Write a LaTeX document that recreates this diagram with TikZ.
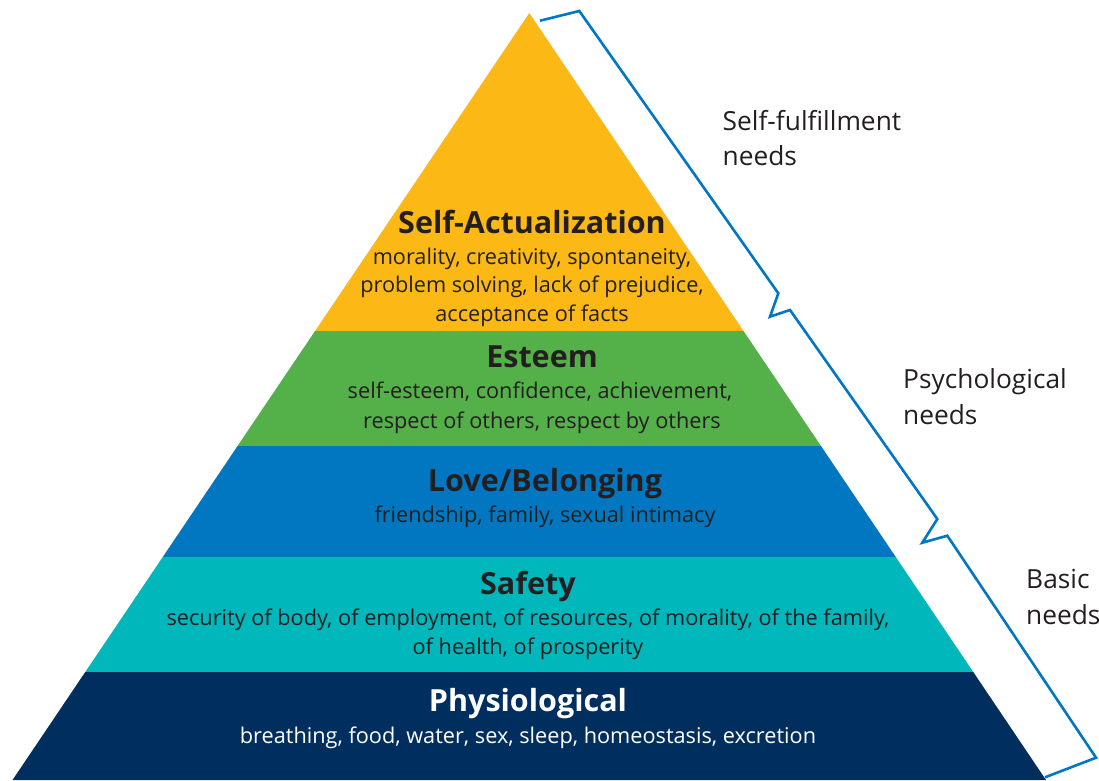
\documentclass[tikz,border=0pt]{standalone}
\usepackage{fontspec}
\setmainfont{Open Sans}
\definecolor{cyel}{RGB}{252,184,21}
\definecolor{cgrn}{RGB}{84,176,72}
\definecolor{cblu}{RGB}{0,119,192}
\definecolor{ctea}{RGB}{0,183,187}
\definecolor{cnav}{RGB}{0,46,95}
\definecolor{cbrk}{RGB}{0,118,196}
\definecolor{ctxt}{RGB}{35,31,32}
\tikzset{
  head/.style={anchor=base, inner sep=0pt, font=\fontsize{30.5}{34}\selectfont\bfseries, text=ctxt},
  body/.style={anchor=base, inner sep=0pt, font=\fontsize{21.7}{28}\selectfont, text=ctxt},
  side/.style={anchor=base west, inner sep=0pt, font=\fontsize{26.3}{30}\selectfont, text=ctxt},
  brk/.style={draw=cbrk, line width=2.6pt, line join=miter},
}
\begin{document}
\begin{tikzpicture}[x=1pt,y=-1pt]
\useasboundingbox (0,0) rectangle (1099,780);
\coordinate (apex) at (529.3,13);
\coordinate (bl) at (12.5,780);
\coordinate (br) at (1046,780);
\begin{scope}
  \clip (apex) -- (bl) -- (br) -- cycle;
  \fill[cyel] (0,0) rectangle (1099,331);
  \fill[cgrn] (0,331) rectangle (1099,446);
  \fill[cblu] (0,446) rectangle (1099,556.5);
  \fill[ctea] (0,556.5) rectangle (1099,671.5);
  \fill[cnav] (0,671.5) rectangle (1099,781);
\end{scope}
% bracket
\coordinate (b0) at (540,20.7);
\coordinate (b1) at (579.3,11);
\coordinate (b2) at (778.3,293.3);
\coordinate (b3) at (770,316.7);
\coordinate (b4) at (790,310);
\coordinate (b5) at (937.3,519);
\coordinate (b6) at (922.3,542.7);
\coordinate (b7) at (947.3,535.7);
\coordinate (b8) at (1096,757.7);
\coordinate (b9) at (1045,777.3);
\draw[brk] (b0) -- (b1) -- (b2) -- (b3) -- (b4) -- (b5) -- (b6) -- (b7) -- (b8) -- (b9);
% texts
\node[head] (sah) at (532,233) {Self-Actualization};
\node[body] (sa1) at (532,264) {morality, creativity, spontaneity,};
\node[body] (sa2) at (532,292.5) {problem solving, lack of prejudice,};
\node[body] (sa3) at (532,321) {acceptance of facts};
\node[head] (esh) at (542,367) {Esteem};
\node[body] (es1) at (540,398) {self-esteem, confidence, achievement,};
\node[body] (es2) at (542,428) {respect of others, respect by others};
\node[head] (loh) at (545,491) {Love/Belonging};
\node[body] (lo1) at (545,522) {friendship, family, sexual intimacy};
\node[head] (sfh) at (528,594) {Safety};
\node[body] (sf1) at (528,625) {security of body, of employment, of resources, of morality, of the family,};
\node[body] (sf2) at (528,654) {of health, of prosperity};
\node[head, text=white] (phh) at (528,711) {Physiological};
\node[body, text=white] (ph1) at (528,743) {breathing, food, water, sex, sleep, homeostasis, excretion};
\node[side] (r1a) at (722.5,130) {Self-fulfillment};
\node[side] (r1b) at (722.5,165.5) {needs};
\node[side] (r2a) at (903,388.5) {Psychological};
\node[side] (r2b) at (903,424) {needs};
\node[side] (r3a) at (1026,588.5) {Basic};
\node[side] (r3b) at (1026,624) {needs};
\end{tikzpicture}
\end{document}
